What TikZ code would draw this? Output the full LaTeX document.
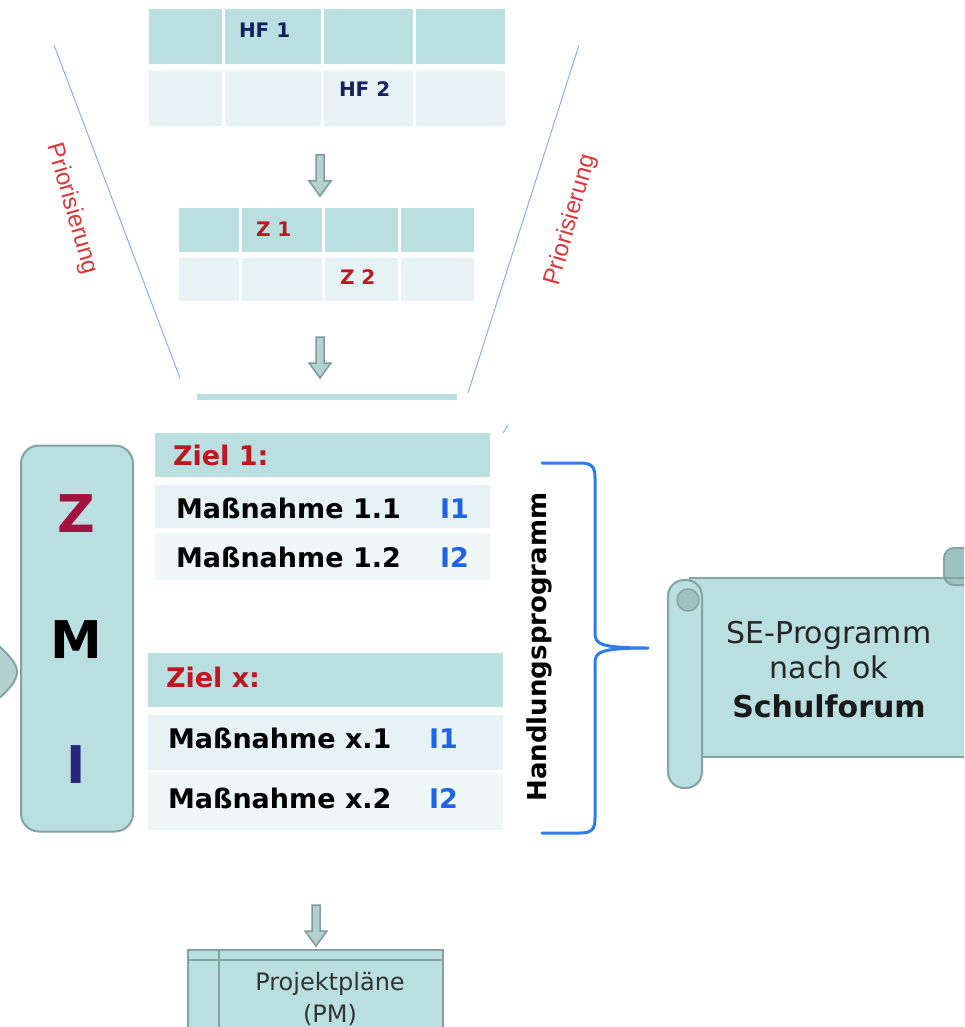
\documentclass[tikz,border=0pt]{standalone}
\usepackage{fontspec}
\setmainfont{DejaVu Sans}
\newfontfamily\arialf{Liberation Sans}
\usetikzlibrary{calc}
\definecolor{tealD}{HTML}{BADFE1}
\definecolor{tealL}{HTML}{E6F2F3}
\definecolor{tealLL}{HTML}{F0F7F7}
\definecolor{grayline}{HTML}{86A3A3}
\definecolor{arrfill}{HTML}{B4D0D0}
\definecolor{arrdraw}{HTML}{7D9B9B}
\definecolor{redZiel}{HTML}{C0161F}
\definecolor{redP}{HTML}{D9383A}
\definecolor{navyT}{HTML}{14215E}
\definecolor{zred}{HTML}{A3123F}
\definecolor{iblue}{HTML}{2A2580}
\definecolor{ib}{HTML}{1F63E6}
\definecolor{braceb}{HTML}{2E7BEB}
\definecolor{funnel}{HTML}{8AB0F0}
\definecolor{scrolldark}{HTML}{9FC2C3}
\newcommand\myfs[1]{\fontsize{#1}{#1}\selectfont}
\tikzset{
  rowD/.style={fill=tealD, draw=none, inner sep=0pt},
  rowL/.style={fill=tealL, draw=none, inner sep=0pt},
  rowLL/.style={fill=tealLL, draw=none, inner sep=0pt},
  divider/.style={draw=white, line width=3pt},
  hftext/.style={font=\myfs{20}\bfseries, text=navyT, anchor=base west},
  ztext/.style={font=\myfs{20}\bfseries, text=redZiel, anchor=base west},
  zieltext/.style={font=\myfs{27}\bfseries, text=redZiel, anchor=base west},
  mtext/.style={font=\myfs{27}\bfseries, text=black, anchor=base west},
  itext/.style={font=\myfs{27}\bfseries, text=ib, anchor=base west},
  bigletter/.style={font=\myfs{52}\bfseries, anchor=base},
  priotext/.style={font=\arialf\myfs{24}, text=redP},
  funnelline/.style={draw=funnel, line width=1pt},
  arrowst/.style={fill=arrfill, draw=arrdraw, line width=1.5pt, line join=miter},
  boxst/.style={fill=tealD, draw=grayline, line width=2pt},
  downarr/.pic={\draw[arrowst] (-4,0) -- (4,0) -- (4,26) -- (11,26) -- (0,41) -- (-11,26) -- (-4,26) -- cycle;}
}
\begin{document}
\begin{tikzpicture}[x=1pt,y=-1pt, every node/.style={inner sep=0pt, outer sep=0pt}]
\useasboundingbox (0,0) rectangle (964,1027);
\begin{scope}
\clip (0,0) rectangle (964,1027);

% funnel lines
\coordinate (fl1) at (54,45);
\coordinate (fl2) at (180,378);
\coordinate (fr1) at (579,45);
\coordinate (fr2) at (468,393);
\coordinate (fs1) at (508,425);
\coordinate (fs2) at (503,433);
\draw[funnelline] (fl1) -- (fl2);
\draw[funnelline] (fr1) -- (fr2);
\draw[funnelline] (fs1) -- (fs2);
\node[priotext, rotate=-74] (prioL) at (72,209) {Priorisierung};
\node[priotext, rotate=74] (prioR) at (571,220) {Priorisierung};

% HF table
\node[rowD, minimum width=356pt, minimum height=55pt] (hfA) at (327,36.5) {};
\node[rowL, minimum width=356pt, minimum height=55pt] (hfB) at (327,98.5) {};
\foreach \x in {223,322,414} \draw[divider] (\x,9) -- (\x,126);
\node[hftext] (hf1) at (239,38) {HF 1};
\node[hftext] (hf2) at (339,97) {HF 2};

\pic at (320,155) {downarr};

% Z table
\node[rowD, minimum width=295pt, minimum height=44pt] (zA) at (326.5,230) {};
\node[rowL, minimum width=295pt, minimum height=43pt] (zB) at (326.5,279.5) {};
\foreach \x in {240,323,399} \draw[divider] (\x,208) -- (\x,301);
\node[ztext] (z1) at (256,236) {Z 1};
\node[ztext] (z2) at (340,284) {Z 2};

\pic at (320,337) {downarr};

\node[rowD, minimum width=260pt, minimum height=6pt] (bar) at (327,397) {};

% left peeking shape
\draw[fill=arrfill, draw=grayline, line width=2pt] (-2,645) .. controls (10,656) and (17,664) .. (17,672) .. controls (17,680) and (10,689) .. (-2,699);

% ZMI box
\node[boxst, rounded corners=18pt, minimum width=112pt, minimum height=386pt] (zmi) at (77,638.5) {};
\node[bigletter, text=zred] (zZ) at (76,532) {Z};
\node[bigletter, text=black] (zM) at (76,658) {M};
\node[bigletter, text=iblue] (zI) at (76,783) {I};

% Ziel 1 block
\node[rowD, minimum width=335pt, minimum height=44pt] (ziel1) at (322.5,455) {};
\node[rowL, minimum width=335pt, minimum height=43pt] (m11) at (322.5,506.5) {};
\node[rowLL, minimum width=335pt, minimum height=47pt] (m12) at (322.5,556.5) {};
\node[zieltext] (ziel1t) at (173,465) {Ziel 1:};
\node[mtext] (m11t) at (176,518) {Maßnahme 1.1};
\node[itext] (m11i) at (440,518) {I1};
\node[mtext] (m12t) at (176,567) {Maßnahme 1.2};
\node[itext] (m12i) at (440,567) {I2};

% Ziel x block
\node[rowD, minimum width=355pt, minimum height=54pt] (zielx) at (325.5,680) {};
\node[rowL, minimum width=355pt, minimum height=55pt] (mx1) at (325.5,742.5) {};
\node[rowLL, minimum width=355pt, minimum height=57pt] (mx2) at (325.5,801.5) {};
\node[zieltext] (zielxt) at (166,687) {Ziel x:};
\node[mtext] (mx1t) at (168,748) {Maßnahme x.1};
\node[itext] (mx1i) at (429,748) {I1};
\node[mtext] (mx2t) at (168,808) {Maßnahme x.2};
\node[itext] (mx2i) at (429,808) {I2};

% Handlungsprogramm + brace
\node[font=\myfs{26}\bfseries, rotate=90] (hp) at (539,647) {Handlungsprogramm};
\coordinate (btop) at (542,463);
\coordinate (bbot) at (542,833);
\coordinate (btip) at (648,648);
\draw[draw=braceb, line width=3pt, line cap=round, line join=round]
  (btop) -- (580,463) .. controls (592,463) and (595,467) .. (595,478)
  -- (595,633) .. controls (595,644) and (600,648) .. (btip)
  (btip) .. controls (600,648) and (595,652) .. (595,663)
  -- (595,818) .. controls (595,829) and (592,833) .. (580,833) -- (bbot);

% scroll
\draw[boxst] (690,578) rectangle (975,757);
\draw[fill=scrolldark, draw=grayline, line width=2pt, rounded corners=10pt] (944,548) rectangle (980,585);
\draw[boxst] (944,578) -- (975,578);
\draw[boxst, rounded corners=16pt] (668,580) rectangle (702,788);
\draw[fill=scrolldark, draw=grayline, line width=1.5pt] (688,600) circle (11);
\node[font=\myfs{30}, text=black!85] (se1) at (829,643) [anchor=base] {SE-Programm};
\node[font=\myfs{30}, text=black!85] (se2) at (829,678) [anchor=base] {nach ok};
\node[font=\myfs{30}\bfseries, text=black!90] (se3) at (829,717) [anchor=base] {Schulforum};

% arrow to project plans
\pic at (316,905) {downarr};

% Projektplaene
\draw[boxst] (188,950) rectangle (443,1040);
\draw[draw=grayline, line width=2pt] (188,960) -- (443,960);
\draw[draw=grayline, line width=2pt] (219,950) -- (219,1040);
\node[font=\myfs{24}, text=black!80, anchor=base] (pp1) at (330,990) {Projektpläne};
\node[font=\myfs{24}, text=black!80, anchor=base] (pp2) at (330,1022) {(PM)};
\end{scope}
\end{tikzpicture}
\end{document}
